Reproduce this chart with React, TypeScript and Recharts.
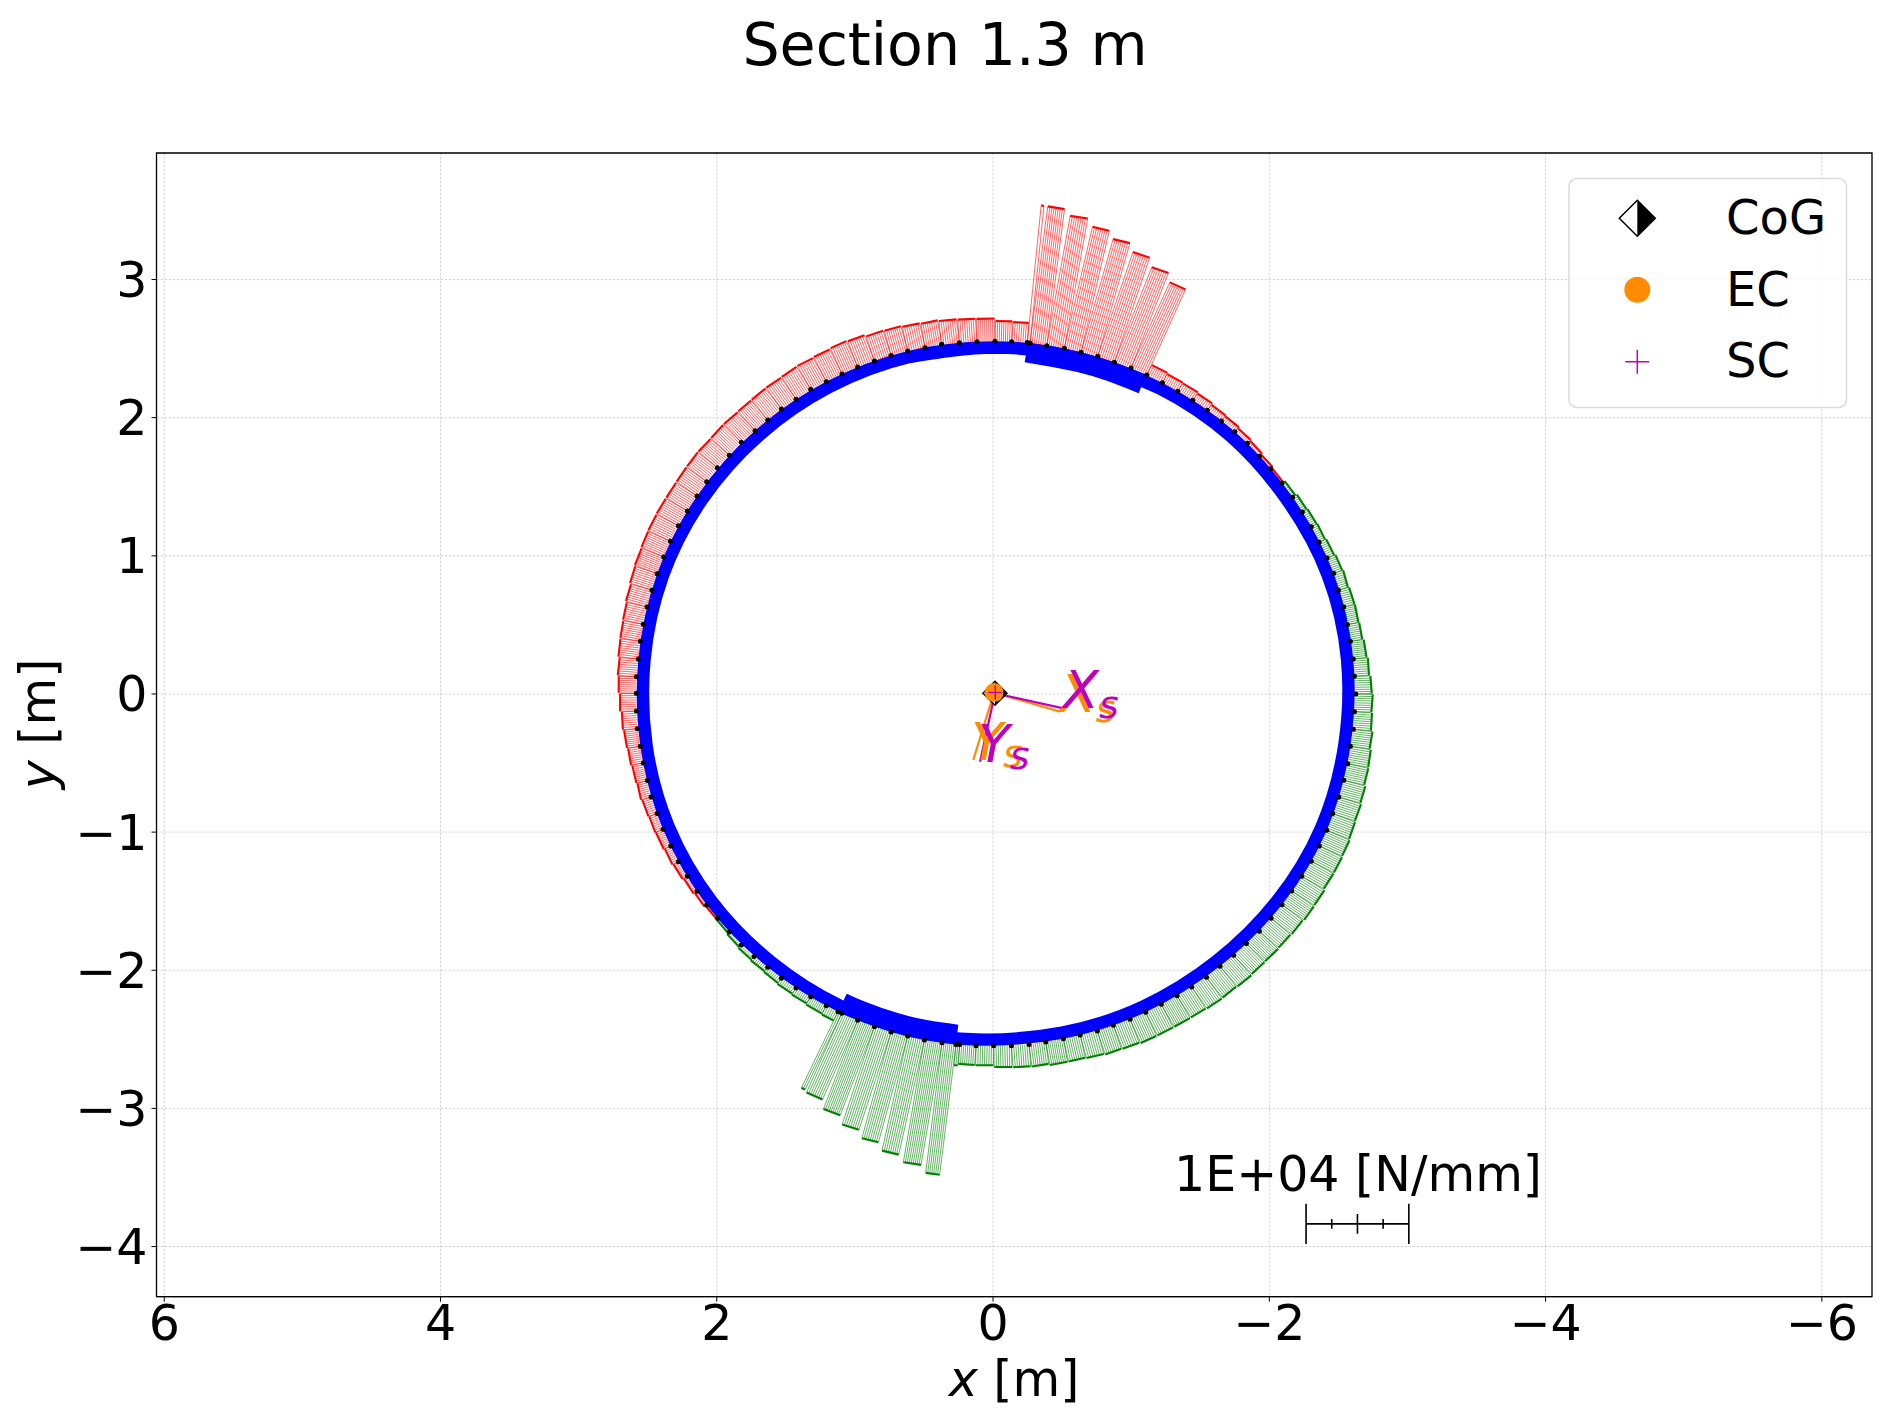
import React from "react";
import {
  CartesianGrid,
  Line,
  LineChart,
  ReferenceArea,
  ReferenceDot,
  XAxis,
  YAxis,
} from "recharts";

const FONT = "DejaVu Sans";
const RED = "#ff0000";
const GREEN = "#008000";
const BLUE = "#0000ff";
const ORANGE = "#ff8c00";
const MAGENTA = "#bf00bf";

const xTicks = [6, 4, 2, 0, -2, -4, -6];
const yTicks = [-4, -3, -2, -1, 0, 1, 2, 3];
const xDomain = [-6.363, 6.056];
const yDomain = [-4.363, 3.916];

// panel stations round the section, counter-clockwise on screen, starting at the top [m]
const stationX = [
  -0.014, 0.116, 0.244, 0.372, 0.492, 0.618, 0.738, 0.859, 0.98, 1.093,
  1.207, 1.32, 1.426, 1.532, 1.631, 1.723, 1.822, 1.909, 1.996, 2.073,
  2.143, 2.213, 2.278, 2.336, 2.384, 2.432, 2.469, 2.505, 2.532, 2.553,
  2.568, 2.582, 2.582, 2.582, 2.575, 2.553, 2.532, 2.502, 2.476, 2.432,
  2.389, 2.333, 2.278, 2.213, 2.143, 2.073, 1.993, 1.909, 1.822, 1.73,
  1.631, 1.532, 1.426, 1.32, 1.207, 1.122, 1.095, 0.98, 0.859, 0.738,
  0.618, 0.497, 0.369, 0.268, 0.241, 0.123, -0.005, -0.133, -0.261, -0.382,
  -0.509, -0.63, -0.755, -0.871, -0.992, -1.105, -1.218, -1.332, -1.438, -1.545,
  -1.643, -1.742, -1.834, -1.928, -2.013, -2.092, -2.162, -2.235, -2.304, -2.362,
  -2.416, -2.459, -2.503, -2.539, -2.568, -2.587, -2.608, -2.616, -2.626, -2.616,
  -2.608, -2.587, -2.565, -2.539, -2.5, -2.466, -2.418, -2.36, -2.304, -2.239,
  -2.169, -2.092, -2.01, -1.928, -1.841, -1.75, -1.653, -1.551, -1.446, -1.337,
  -1.226, -1.113, -0.999, -0.878, -0.758, -0.637, -0.516, -0.389, -0.268, -0.248,
  -0.135,
];
const stationY = [
  2.553, 2.55, 2.543, 2.531, 2.507, 2.483, 2.451, 2.41, 2.367, 2.316,
  2.261, 2.205, 2.133, 2.063, 1.983, 1.906, 1.822, 1.728, 1.638, 1.537,
  1.433, 1.325, 1.218, 1.105, 0.992, 0.871, 0.751, 0.63, 0.504, 0.381,
  0.253, 0.125, 0.005, -0.123, -0.251, -0.379, -0.499, -0.627, -0.746, -0.866,
  -0.98, -1.1, -1.214, -1.32, -1.428, -1.527, -1.624, -1.723, -1.817, -1.901,
  -1.978, -2.058, -2.128, -2.191, -2.256, -2.3, -2.311, -2.362, -2.408, -2.447,
  -2.476, -2.505, -2.524, -2.538, -2.538, -2.546, -2.546, -2.546, -2.538, -2.519,
  -2.495, -2.468, -2.439, -2.398, -2.355, -2.304, -2.246, -2.184, -2.121, -2.051,
  -1.971, -1.892, -1.807, -1.718, -1.624, -1.525, -1.426, -1.32, -1.211, -1.1,
  -0.987, -0.866, -0.746, -0.625, -0.505, -0.379, -0.256, -0.128, 0.0, 0.128,
  0.253, 0.381, 0.502, 0.63, 0.751, 0.873, 0.984, 1.098, 1.211, 1.317,
  1.424, 1.527, 1.631, 1.72, 1.815, 1.899, 1.976, 2.054, 2.126, 2.191,
  2.253, 2.309, 2.36, 2.401, 2.444, 2.473, 2.502, 2.521, 2.541, 2.545,
  2.55,
];

// drawn length of the flow bar on each panel [m], red side positive, green side negative
const panelFlow = [
  0.165, 0.167, 0.17, 0.176, 0.18, 0.185, 0.188, 0.2, 0.205, 0.2,
  0.195, 0.193, 0.19, 0.188, 0.186, 0.183, 0.182, 0.18, 0.18, 0.18,
  0.18, 0.18, 0.178, 0.176, 0.172, 0.167, 0.158, 0.15, 0.147, 0.145,
  0.135, 0.128, 0.118, 0.105, 0.097, 0.09, 0.082, 0.075, 0.066, 0.06,
  0.056, 0.048, 0.04, 0.03, 0.02, 0.01, -0.012, -0.022, -0.03, -0.037,
  -0.043, -0.05, -0.057, -0.066, -0.072, -0.613, -0.628, -0.688, -0.745, -0.798,
  -0.85, -0.898, -0.95, -0.15, -0.14, -0.142, -0.154, -0.157, -0.16, -0.17,
  -0.17, -0.173, -0.18, -0.183, -0.188, -0.188, -0.188, -0.186, -0.19, -0.188,
  -0.193, -0.188, -0.186, -0.183, -0.188, -0.195, -0.193, -0.183, -0.183, -0.18,
  -0.173, -0.169, -0.162, -0.152, -0.15, -0.14, -0.128, -0.123, -0.116, -0.106,
  -0.097, -0.087, -0.082, -0.08, -0.072, -0.065, -0.056, -0.048, -0.043, -0.036,
  -0.024, 0.01, 0.018, 0.027, 0.034, 0.044, 0.05, 0.06, 0.068, 0.072,
  0.08, 0.68, 0.739, 0.798, 0.852, 0.903, 0.955, 0.997, 0.997, 0.142,
  0.147,
];

// station ranges carrying the thick spar caps
const capRanges = [[55, 63], [121, 129]];
const skinThickness = 0.09;
const capThickness = 0.145;
const HATCH_SPACING = 0.0152;
const PX_PER_M = 138.15;

const scaleBarEnds = [-2.266, -3.01];
const scaleBarY = -3.836;
const scaleBarTicks = [
  [-2.266, 0.145], [-2.452, 0.036], [-2.638, 0.072], [-2.824, 0.036], [-3.01, 0.145],
];

const cogPoint = [{ x: -0.014, y: 0.005 }];
const ecPoint = [{ x: -0.007, y: 0.01 }];
const scPoint = [{ x: -0.016, y: 0.01 }];
const scAxisX = [{ x: -0.014, y: 0.005 }, { x: -0.509, y: -0.104 }];
const scAxisY = [{ x: -0.014, y: 0.005 }, { x: 0.094, y: -0.49 }];
const ecAxisX = [{ x: -0.007, y: 0.01 }, { x: -0.485, y: -0.128 }];
const ecAxisY = [{ x: -0.007, y: 0.01 }, { x: 0.143, y: -0.478 }];

const legendItems = ["CoG", "EC", "SC"];

const stations = stationX.map((x, i) => ({ x, y: stationY[i] }));

function inward(p: { x: number; y: number }, dist: number) {
  const r = Math.hypot(p.x, p.y);
  return { x: p.x * (1 - dist / r), y: p.y * (1 - dist / r) };
}

// the wall is a smooth curve, so only every fifth station steers it; it overlaps itself at the top
const skinStations = stations.filter((_, i) => i % 5 === 0 && i < 130);
const skinLine = [...skinStations.slice(-2), ...skinStations, ...skinStations.slice(0, 2)].map((p) =>
  inward(p, skinThickness / 2),
);
const capLines = capRanges.map(([a, b]) =>
  stations
    .slice(a, b + 1)
    .filter((_, i) => i % 2 === 0 || a + i === b)
    .map((p) => inward(p, capThickness / 2)),
);

// each panel becomes a hatched bar standing on the panel, plus a heavier line at its tip
function buildBars(positive: boolean) {
  const hatch: { x: number; y: number | null }[] = [];
  const tips: { x: number; y: number | null }[] = [];
  panelFlow.forEach((flow, i) => {
    if (flow > 0 !== positive) return;
    const a = stations[i];
    const b = stations[(i + 1) % stations.length];
    const mx = (a.x + b.x) / 2;
    const my = (a.y + b.y) / 2;
    const r = Math.hypot(mx, my);
    const len = Math.abs(flow);
    const ux = (mx / r) * len;
    const uy = (my / r) * len;
    const steps = Math.max(1, Math.round(Math.hypot(b.x - a.x, b.y - a.y) / HATCH_SPACING));
    for (let k = 0; k <= steps; k++) {
      const bx = a.x + ((b.x - a.x) * k) / steps;
      const by = a.y + ((b.y - a.y) * k) / steps;
      hatch.push({ x: bx, y: by }, { x: bx + ux, y: by + uy }, { x: bx + ux, y: null });
    }
    tips.push(
      { x: a.x + ux, y: a.y + uy },
      { x: b.x + ux, y: b.y + uy },
      { x: b.x + ux, y: null },
    );
  });
  return { hatch, tips };
}

const redBars = buildBars(true);
const greenBars = buildBars(false);

const scaleBarLine = [
  { x: scaleBarEnds[0], y: scaleBarY },
  { x: scaleBarEnds[1], y: scaleBarY },
];
const scaleBarMarks = scaleBarTicks.flatMap(([x, h]) => [
  { x, y: scaleBarY - h },
  { x, y: scaleBarY + h },
  { x, y: null },
]);

function diamondPath(cx: number, cy: number, half: number) {
  return `M${cx} ${cy - half}L${cx + half} ${cy}L${cx} ${cy + half}L${cx - half} ${cy}Z`;
}

function CogMark({ cx, cy, half }: { cx: number; cy: number; half: number }) {
  return (
    <g>
      <path d={diamondPath(cx, cy, half)} fill="#fff" stroke="#000" strokeWidth={1.5} />
      <path d={`M${cx} ${cy - half}L${cx + half} ${cy}L${cx} ${cy + half}Z`} fill="#000" />
    </g>
  );
}

function PlusMark({ cx, cy, half }: { cx: number; cy: number; half: number }) {
  return (
    <path
      d={`M${cx - half} ${cy}H${cx + half}M${cx} ${cy - half}V${cy + half}`}
      stroke={MAGENTA}
      strokeWidth={1.5}
      fill="none"
    />
  );
}

function AxisName({ cx, cy, name, color, dx = 0, subDy = 10 }: any) {
  return (
    <text x={cx + dx} y={cy} fill={color} fontFamily={FONT} fontStyle="italic" fontSize={52}>
      {name}
      <tspan fontSize={38} dy={subDy}>s</tspan>
    </text>
  );
}

function Overlay() {
  return (
    <svg
      width={1892}
      height={1422}
      style={{ position: "absolute", left: 0, top: 0, pointerEvents: "none" }}
      fontFamily={FONT}
    >
      <text x={945} y={65} fontSize={58.6} textAnchor="middle">Section 1.3 m</text>
      <text x={1014} y={1396} fontSize={49} textAnchor="middle">
        <tspan fontStyle="italic">x</tspan> [m]
      </text>
      <text x={55} y={724} fontSize={49} textAnchor="middle" transform="rotate(-90 55 724)">
        <tspan fontStyle="italic">y</tspan> [m]
      </text>
      <rect
        x={1569}
        y={178.5}
        width={277.5}
        height={229}
        rx={8}
        fill="rgba(255,255,255,0.8)"
        stroke="#dcdcdc"
        strokeWidth={1.6}
      />
      <CogMark cx={1637.3} cy={218.3} half={18} />
      <circle cx={1637.3} cy={289.7} r={13} fill={ORANGE} />
      <PlusMark cx={1637.3} cy={361.7} half={12} />
      {legendItems.map((name, i) => (
        <text key={name} x={1726} y={[233.5, 306, 376.7][i]} fontSize={48}>{name}</text>
      ))}
    </svg>
  );
}

export default function App() {
  return (
    <div style={{ position: "absolute", left: 0, top: 0, width: 1892, height: 1422, background: "#fff" }}>
      <LineChart
        width={1892}
        height={1422}
        margin={{ top: 153, right: 20, left: 6.5, bottom: 45.3 }}
      >
        <CartesianGrid stroke="#cfcfcf" strokeWidth={0.9} strokeDasharray="2.5 1.5" />
        <XAxis
          dataKey="x"
          type="number"
          reversed
          domain={xDomain}
          ticks={xTicks}
          interval={0}
          allowDataOverflow
          height={80}
          tickSize={5}
          tickMargin={4}
          stroke="#000"
          tick={{ fontSize: 49, fontFamily: FONT, fill: "#000" }}
          tickFormatter={(v: number) => String(v).replace("-", "\u2212")}
        />
        <YAxis
          dataKey="y"
          type="number"
          domain={yDomain}
          ticks={yTicks}
          interval={0}
          allowDataOverflow
          width={150}
          tickSize={5}
          tickMargin={4}
          stroke="#000"
          tick={{ fontSize: 49, fontFamily: FONT, fill: "#000" }}
          tickFormatter={(v: number) => String(v).replace("-", "\u2212")}
        />
        <ReferenceArea
          x1={xDomain[0]}
          x2={xDomain[1]}
          y1={yDomain[0]}
          y2={yDomain[1]}
          fill="none"
          stroke="#000"
          strokeWidth={1.3}
        />

        <Line data={skinLine} dataKey="y" type="natural" stroke={BLUE} strokeWidth={skinThickness * PX_PER_M} dot={false} isAnimationActive={false} />
        {capLines.map((cap, i) => (
          <Line key={i} data={cap} dataKey="y" type="natural" stroke={BLUE} strokeWidth={capThickness * PX_PER_M} dot={false} isAnimationActive={false} />
        ))}
        <Line data={stations} dataKey="y" stroke="none" dot={{ r: 2.5, fill: "#000", stroke: "none" }} isAnimationActive={false} />

        <Line data={redBars.hatch} dataKey="y" stroke={RED} strokeOpacity={0.72} strokeWidth={0.85} dot={false} isAnimationActive={false} />
        <Line data={redBars.tips} dataKey="y" stroke={RED} strokeWidth={2.1} dot={false} isAnimationActive={false} />
        <Line data={greenBars.hatch} dataKey="y" stroke={GREEN} strokeOpacity={0.72} strokeWidth={0.85} dot={false} isAnimationActive={false} />
        <Line data={greenBars.tips} dataKey="y" stroke={GREEN} strokeWidth={2.1} dot={false} isAnimationActive={false} />

        <Line data={ecAxisX} dataKey="y" stroke={ORANGE} strokeWidth={2.2} dot={false} isAnimationActive={false} />
        <Line data={ecAxisY} dataKey="y" stroke={ORANGE} strokeWidth={2.2} dot={false} isAnimationActive={false} />
        <Line data={scAxisX} dataKey="y" stroke={MAGENTA} strokeWidth={2.2} dot={false} isAnimationActive={false} />
        <Line data={scAxisY} dataKey="y" stroke={MAGENTA} strokeWidth={2.2} dot={false} isAnimationActive={false} />

        <Line data={cogPoint} dataKey="y" stroke="none" isAnimationActive={false}
          dot={(p: any) => <CogMark key="cog" cx={p.cx} cy={p.cy} half={12} />} />
        <Line data={ecPoint} dataKey="y" stroke="none" isAnimationActive={false}
          dot={(p: any) => <circle key="ec" cx={p.cx} cy={p.cy} r={9.5} fill={ORANGE} />} />
        <Line data={scPoint} dataKey="y" stroke="none" isAnimationActive={false}
          dot={(p: any) => <PlusMark key="sc" cx={p.cx} cy={p.cy} half={7} />} />

        <ReferenceDot x={ecAxisX[1].x} y={ecAxisX[1].y} shape={(p: any) => <AxisName {...p} name="X" color={ORANGE} />} />
        <ReferenceDot x={ecAxisY[1].x} y={ecAxisY[1].y} shape={(p: any) => <AxisName {...p} name="Y" color={ORANGE} dx={-2} subDy={7} />} />
        <ReferenceDot x={scAxisX[1].x} y={scAxisX[1].y} shape={(p: any) => <AxisName {...p} name="X" color={MAGENTA} />} />
        <ReferenceDot x={scAxisY[1].x} y={scAxisY[1].y} shape={(p: any) => <AxisName {...p} name="Y" color={MAGENTA} dx={-2} subDy={7} />} />

        <Line data={scaleBarLine} dataKey="y" stroke="#000" strokeWidth={1.6} dot={false} isAnimationActive={false} />
        <Line data={scaleBarMarks} dataKey="y" stroke="#000" strokeWidth={1.6} dot={false} isAnimationActive={false} />
        <ReferenceDot
          x={-2.642}
          y={-3.597}
          shape={(p: any) => (
            <text x={p.cx} y={p.cy} textAnchor="middle" fontFamily={FONT} fontSize={49} fill="#000">
              1E+04 [N/mm]
            </text>
          )}
        />
      </LineChart>
      <Overlay />
    </div>
  );
}
